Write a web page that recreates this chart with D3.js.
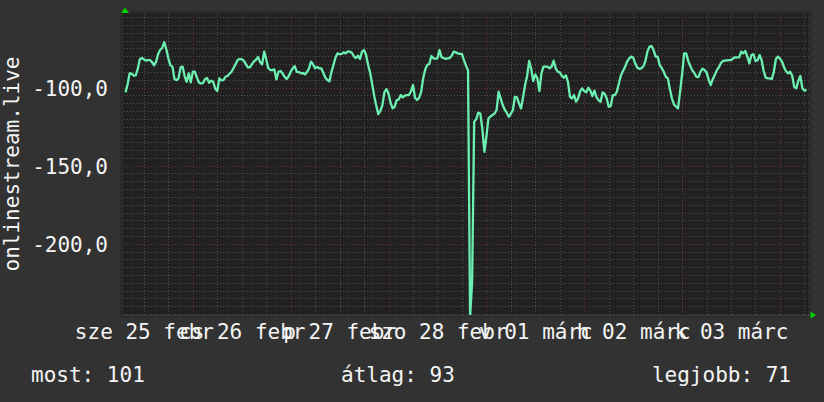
<!DOCTYPE html>
<html>
<head>
<meta charset="utf-8">
<script src="https://cdn.jsdelivr.net/npm/d3@7"></script>
<style>
  html, body { margin: 0; padding: 0; background: #323232; }
  svg { display: block; }
  text { font-family: "DejaVu Sans Mono", monospace; fill: #f4f4f4; }
</style>
</head>
<body>
<div id="chart"></div>
<script>
// window shown: 7 days, one value every 30 minutes
const windowStart = "2015-02-25T07:00:00Z";
const windowEnd = "2015-03-04T07:00:00Z";
const seriesStart = "2015-02-25T07:30:00Z";
const stepMinutes = 30;

const dayLabels = ["sze 25 febr", "cs 26 febr", "p 27 febr", "szo 28 febr", "v 01 márc", "h 02 márc", "k 03 márc"];
const yMajorTicks = [-200, -150, -100];
const yMinorStep = 5;
const yTitle = "onlinestream.live";
const legendLabels = ["most:", "átlag:", "legjobb:"];
const legendValues = [101, 93, 71];

const values = [
  -103.1, -98.0, -90.9, -91.1, -92.4, -92.2, -88.1, -81.9, -81.1, -81.9,
  -82.8, -82.4, -82.4, -83.7, -85.8, -83.4, -78.5, -75.8, -74.5, -71.0,
  -75.5, -81.3, -85.8, -86.6, -94.6, -95.2, -94.1, -87.1, -86.6, -92.8,
  -96.3, -90.9, -96.7, -89.9, -89.9, -93.5, -96.9, -97.3, -97.1, -94.6,
  -93.9, -96.9, -95.6, -96.3, -100.8, -102.2, -94.1, -95.4, -95.2, -93.1,
  -92.6, -91.1, -89.9, -87.5, -85.0, -82.4, -81.7, -81.9, -82.8, -85.0,
  -87.1, -87.1, -85.0, -83.2, -82.2, -80.5, -83.7, -85.2, -77.0, -81.9,
  -87.5, -88.8, -88.8, -88.4, -94.8, -89.9, -89.4, -90.9, -93.1, -94.6,
  -92.8, -89.9, -87.7, -86.3, -89.9, -90.1, -90.9, -90.7, -91.6, -90.1,
  -87.7, -83.4, -85.2, -87.7, -86.9, -87.7, -87.7, -90.5, -93.7, -95.2,
  -96.0, -90.1, -85.6, -80.7, -78.1, -78.7, -78.5, -77.5, -78.1, -76.8,
  -77.0, -77.7, -80.0, -81.1, -79.6, -81.7, -77.0, -76.0, -79.2, -85.6,
  -90.7, -98.0, -105.5, -111.7, -117.0, -115.0, -111.2, -102.9, -101.0, -104.0,
  -109.7, -113.4, -112.3, -108.0, -107.6, -104.8, -106.3, -105.2, -104.8, -104.8,
  -102.5, -98.4, -106.5, -108.0, -106.7, -102.7, -94.1, -88.4, -85.6, -84.9,
  -79.8, -81.3, -81.5, -81.3, -76.0, -80.5, -81.1, -81.7, -81.3, -81.1,
  -79.6, -77.0, -77.5, -78.1, -78.5, -78.5, -82.4, -86.0, -89.0, -247.0,
  -224.5, -122.0, -120.2, -116.1, -116.6, -126.2, -141.1, -131.5, -119.8, -118.5,
  -117.6, -116.6, -114.4, -102.7, -106.9, -111.2, -114.2, -116.1, -118.7, -116.8,
  -114.4, -105.9, -106.3, -110.1, -113.4, -106.1, -98.4, -92.4, -83.0, -88.1,
  -95.8, -91.6, -94.1, -102.3, -90.9, -86.6, -86.6, -86.6, -87.7, -86.6,
  -82.8, -87.7, -89.9, -90.3, -92.4, -93.7, -92.2, -96.3, -105.9, -107.0,
  -104.8, -109.1, -106.9, -102.3, -100.5, -102.3, -103.1, -100.1, -102.0, -105.5,
  -102.0, -106.1, -108.0, -109.1, -103.1, -104.0, -106.9, -112.3, -111.9, -104.8,
  -104.8, -102.7, -97.3, -92.2, -89.4, -86.9, -83.4, -81.5, -80.2, -80.9,
  -84.5, -87.3, -88.0, -87.7, -86.4, -83.0, -77.0, -73.8, -73.4, -76.0,
  -80.2, -80.2, -85.6, -87.5, -89.9, -93.1, -94.1, -101.0, -106.9, -110.8,
  -112.1, -113.4, -102.7, -91.6, -78.1, -78.1, -83.0, -86.2, -89.0, -90.7,
  -93.1, -93.3, -89.9, -87.9, -88.8, -90.3, -94.8, -98.4, -94.8, -92.0,
  -89.0, -87.1, -84.5, -83.0, -82.8, -82.6, -82.4, -82.4, -81.3, -80.7,
  -80.7, -80.7, -77.0, -78.1, -76.6, -80.2, -84.5, -79.2, -78.7, -83.0,
  -82.6, -79.2, -82.4, -89.4, -93.7, -94.1, -94.1, -94.6, -89.9, -81.7,
  -80.2, -81.5, -83.4, -87.1, -89.6, -90.9, -89.9, -92.4, -99.5, -100.5,
  -95.8, -92.6, -100.5, -102.0, -101.2
];

const width = 824, height = 402;
const plot = { left: 123.5, right: 808.5, top: 13.5, bottom: 315 };

const svg = d3.select("#chart").append("svg")
  .attr("width", width)
  .attr("height", height);

svg.append("rect").attr("width", width).attr("height", height).attr("fill", "#323232");

const t0 = new Date(windowStart), t1 = new Date(windowEnd);
const x = d3.scaleUtc().domain([t0, t1]).range([plot.left, plot.right]);
const y = d3.scaleLinear().domain([-245.6, -52.6]).range([plot.bottom, plot.top]);

const s0 = new Date(seriesStart);
const data = values.map((v, i) => [d3.utcMinute.offset(s0, i * stepMinutes), v]);

// frame + canvas
svg.append("rect")
  .attr("x", plot.left - 3.5).attr("y", plot.top - 2.5)
  .attr("width", plot.right - plot.left + 6.5).attr("height", plot.bottom - plot.top + 5)
  .attr("fill", "#2a2a2a");
svg.append("rect")
  .attr("x", plot.left).attr("y", plot.top)
  .attr("width", plot.right - plot.left).attr("height", plot.bottom - plot.top)
  .attr("fill", "#212121");

const grid = svg.append("g").attr("shape-rendering", "crispEdges");
const minorColor = "#4e4e4e", majorColor = "#6a3232", dash = "1,2";

// horizontal grid
const yMin = Math.ceil(y.domain()[0] / yMinorStep) * yMinorStep;
const yMinor = d3.range(yMin, y.domain()[1], yMinorStep).filter(v => !yMajorTicks.includes(v));
grid.selectAll(".hmin").data(yMinor).join("line")
  .attr("x1", plot.left).attr("x2", plot.right)
  .attr("y1", d => Math.round(y(d)) + 0.5).attr("y2", d => Math.round(y(d)) + 0.5)
  .attr("stroke", minorColor).attr("stroke-dasharray", dash);

// vertical grid: 6 hours minor, midnight major
const hours6 = d3.utcHour.every(6).range(t0, t1).filter(d => d.getUTCHours() !== 0);
const days = d3.utcDay.range(t0, t1);
grid.selectAll(".vmin").data(hours6).join("line")
  .attr("x1", d => Math.round(x(d)) + 0.5).attr("x2", d => Math.round(x(d)) + 0.5)
  .attr("y1", plot.top).attr("y2", plot.bottom + 2)
  .attr("stroke", minorColor).attr("stroke-dasharray", dash);

grid.selectAll(".hmaj").data(yMajorTicks).join("line")
  .attr("x1", plot.left).attr("x2", plot.right)
  .attr("y1", d => Math.round(y(d)) + 0.5).attr("y2", d => Math.round(y(d)) + 0.5)
  .attr("stroke", majorColor).attr("stroke-dasharray", dash);
grid.selectAll(".vmaj").data(days).join("line")
  .attr("x1", d => Math.round(x(d)) + 0.5).attr("x2", d => Math.round(x(d)) + 0.5)
  .attr("y1", plot.top).attr("y2", plot.bottom + 2)
  .attr("stroke", majorColor).attr("stroke-dasharray", dash);

// bottom axis line
grid.append("line")
  .attr("x1", plot.left - 3.5).attr("x2", plot.right + 3)
  .attr("y1", plot.bottom + 0.5).attr("y2", plot.bottom + 0.5)
  .attr("stroke", "#3a3a3a");

// series
svg.append("clipPath").attr("id", "clip")
  .append("rect")
  .attr("x", plot.left).attr("y", plot.top)
  .attr("width", plot.right - plot.left).attr("height", plot.bottom - plot.top);

const line = d3.line()
  .x(d => x(d[0]))
  .y(d => y(d[1]));

svg.append("path")
  .datum(data)
  .attr("clip-path", "url(#clip)")
  .attr("fill", "none")
  .attr("stroke", "#6cf0b2")
  .attr("stroke-width", 2.3)
  .attr("stroke-linejoin", "round")
  .attr("d", line);

// arrows
svg.append("path")
  .attr("d", `M${plot.left - 2.5},13 L${plot.left + 1.5},7.5 L${plot.left + 5.5},13 Z`)
  .attr("fill", "#00d000");
svg.append("path")
  .attr("d", `M810.5,311.5 L816,315 L810.5,318.5 Z`)
  .attr("fill", "#00d000");

// axes
const locale = d3.formatLocale({ decimal: ",", thousands: " ", grouping: [3], currency: ["", ""], minus: "-" });
const fmt = locale.format(".1f");

const yAxis = d3.axisLeft(y).tickValues(yMajorTicks).tickFormat(fmt).tickSize(0).tickPadding(0);
svg.append("g")
  .attr("transform", "translate(108,0)")
  .call(yAxis)
  .call(g => g.select(".domain").remove())
  .selectAll("text")
  .attr("dy", "0.36em")
  .style("font-size", "21px")
  .attr("fill", "#f4f4f4");

const noonTicks = d3.utcDay.range(d3.utcDay.floor(t0), t1).map(d => d3.utcHour.offset(d, 12));
const xAxis = d3.axisBottom(x).tickValues(noonTicks)
  .tickFormat((d, i) => dayLabels[i]).tickSize(0).tickPadding(0);
svg.append("g")
  .attr("transform", "translate(0,323)")
  .call(xAxis)
  .call(g => g.select(".domain").remove())
  .selectAll("text")
  .attr("dy", "0.75em")
  .style("font-size", "21px")
  .attr("fill", "#f4f4f4");

// y title
svg.append("text")
  .attr("transform", "translate(18.5,164) rotate(-90)")
  .attr("text-anchor", "middle")
  .style("font-size", "21px")
  .text(yTitle);

// legend
const legendPos = [{ x: 31, anchor: "start" }, { x: 341, anchor: "start" }, { x: 791, anchor: "end" }];
svg.selectAll(".legend").data(legendLabels).join("text")
  .attr("x", (d, i) => legendPos[i].x)
  .attr("y", 381.5)
  .attr("text-anchor", (d, i) => legendPos[i].anchor)
  .style("font-size", "21px")
  .text((d, i) => `${d} ${legendValues[i]}`);
</script>
</body>
</html>
